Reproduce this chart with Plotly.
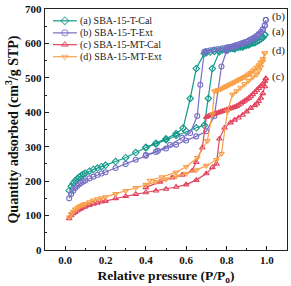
import plotly.graph_objects as go

# ---------------- data ----------------
names = ["(a) SBA-15-T-Cal", "(b) SBA-15-T-Ext", "(c) SBA-15-MT-Cal", "(d) SBA-15-MT-Ext"]
labels = ["(b)", "(a)", "(d)", "(c)"]
label_y = [677, 634, 579, 504]

a_ads_x = [0.02,0.03,0.04,0.05,0.06,0.07,0.08,0.09,0.10,0.12,0.14,0.16,0.18,0.20,0.25,0.30,0.35,0.40,0.45,0.50,0.55,0.60,0.65,0.69,0.71,0.73,0.765,0.80,0.84,0.88,0.91,0.94,0.96,0.98,0.99]
a_ads_y = [173,185,194,201,207,212,216,220,223,229,234,238,242,246,257,268,283,297,308,320,333,345,355,362,440,527,576,580,584,590,596,603,609,617,625]
a_des_x = [0.99,0.98,0.97,0.96,0.95,0.94,0.93,0.92,0.91,0.90,0.89,0.88,0.87,0.86,0.85,0.84,0.83,0.82,0.81,0.80,0.78,0.76,0.74,0.72,0.70,0.69,0.65,0.62,0.585,0.55,0.50,0.45,0.40]
a_des_y = [625,618,613,609,606,603,601,599,597,595,593,592,590,589,588,587,586,585,584,583,581,579,577,575,573,571,527,440,354,338,323,310,298]

b_ads_x = [0.02,0.03,0.04,0.05,0.06,0.07,0.08,0.09,0.10,0.12,0.14,0.16,0.18,0.20,0.25,0.30,0.35,0.40,0.45,0.50,0.55,0.60,0.65,0.70,0.74,0.775,0.80,0.84,0.88,0.91,0.94,0.96,0.98,0.99,0.995]
b_ads_y = [150,163,172,180,186,191,195,199,202,208,213,218,222,226,238,250,262,274,285,295,306,318,330,345,389,533,578,588,598,606,616,626,640,652,668]
b_des_x = [0.995,0.99,0.98,0.97,0.96,0.95,0.94,0.93,0.92,0.91,0.90,0.89,0.88,0.87,0.86,0.85,0.84,0.83,0.82,0.81,0.80,0.78,0.76,0.74,0.72,0.70,0.69,0.67,0.655,0.62,0.58,0.52,0.46,0.40]
b_des_y = [668,652,641,633,627,622,618,614,611,608,605,603,601,599,597,595,593,591,590,589,588,586,584,582,580,578,576,480,389,340,326,305,288,276]

c_ads_x = [0.02,0.03,0.04,0.05,0.06,0.07,0.08,0.09,0.10,0.12,0.14,0.16,0.18,0.20,0.25,0.30,0.35,0.40,0.45,0.50,0.55,0.60,0.65,0.70,0.73,0.75,0.765,0.79,0.82,0.84,0.86,0.88,0.90,0.92,0.94,0.95,0.96,0.97,0.98,0.99,0.995]
c_ads_y = [92,100,106,110,114,118,121,124,126,130,134,137,140,142,150,156,162,167,172,177,183,190,203,222,240,250,323,355,370,378,384,392,402,412,420,425,432,442,455,475,498]
c_des_x = [0.995,0.99,0.98,0.97,0.96,0.95,0.94,0.93,0.92,0.91,0.90,0.89,0.88,0.87,0.86,0.85,0.84,0.83,0.82,0.81,0.80,0.79,0.78,0.77,0.76,0.75,0.74,0.73,0.72,0.71,0.70,0.68,0.65,0.63,0.58,0.53,0.47,0.40]
c_des_y = [498,490,482,476,470,464,458,452,446,441,437,433,429,425,421,418,415,413,411,409,407,405,403,401,399,397,395,393,391,389,386,297,255,230,218,210,198,182]

d_ads_x = [0.02,0.03,0.04,0.05,0.06,0.07,0.08,0.09,0.10,0.12,0.14,0.16,0.18,0.20,0.25,0.30,0.35,0.40,0.45,0.50,0.55,0.60,0.65,0.70,0.75,0.775,0.805,0.83,0.85,0.87,0.89,0.91,0.93,0.95,0.96,0.97,0.98,0.99]
d_ads_y = [95,105,112,118,122,126,129,132,134,139,144,148,151,154,163,172,181,190,198,206,214,222,232,245,262,280,403,452,462,472,482,492,502,510,520,532,548,572]
d_des_x = [0.99,0.98,0.97,0.96,0.95,0.94,0.93,0.92,0.91,0.90,0.89,0.88,0.87,0.86,0.85,0.84,0.83,0.82,0.81,0.80,0.79,0.78,0.77,0.76,0.75,0.74,0.73,0.705,0.655,0.60,0.55,0.48,0.42]
d_des_y = [572,555,545,537,531,525,520,515,511,507,503,500,497,494,491,488,485,482,479,476,473,470,467,465,463,461,395,317,268,242,226,212,202]

colors = ["#14998a", "#7770c6", "#e04660", "#f7a04a"]
symbols = ["diamond-open", "circle-open", "triangle-up-open", "triangle-down-open"]

series = [
    (a_ads_x + a_des_x, a_ads_y + a_des_y),
    (b_ads_x + b_des_x, b_ads_y + b_des_y),
    (c_ads_x + c_des_x, c_ads_y + c_des_y),
    (d_ads_x + d_des_x, d_ads_y + d_des_y),
]

serif = "Liberation Serif, Times New Roman, serif"

fig = go.Figure()
for i, (xs, ys) in enumerate(series):
    fig.add_trace(go.Scatter(
        x=xs, y=ys, mode="lines+markers", name=names[i], showlegend=False,
        line=dict(color=colors[i], width=1.2),
        marker=dict(symbol=symbols[i], size=5, color=colors[i], line=dict(width=1.1, color=colors[i])),
    ))

# compact legend drawn on an overlay axis spanning the plot area (0..1)
leg_rows = [0.951, 0.901, 0.852, 0.802]
for i in range(4):
    fig.add_trace(go.Scatter(
        x=[0.033, 0.082, 0.132], y=[leg_rows[i]] * 3, xaxis="x2", yaxis="y2",
        mode="lines+markers", showlegend=False, hoverinfo="skip",
        line=dict(color=colors[i], width=1.2),
        marker=dict(symbol=symbols[i], size=[0, 6, 0], color=colors[i], line=dict(width=1.1, color=colors[i])),
    ))
    fig.add_annotation(x=0.137, y=leg_rows[i], xref="x2", yref="y2", text=names[i], showarrow=False,
                       xanchor="left", yanchor="middle", font=dict(family=serif, size=10, color="#222"))

for t, yv in zip(labels, label_y):
    fig.add_annotation(x=1.06, y=yv, text=t, showarrow=False,
                       font=dict(family=serif, size=11, color="#222"), xanchor="center", yanchor="middle")

fig.update_layout(
    width=291, height=286,
    margin=dict(l=45, r=3, t=7, b=36),
    paper_bgcolor="white", plot_bgcolor="white",
    showlegend=False,
    font=dict(family=serif, color="#111"),
    xaxis2=dict(overlaying="x", range=[0, 1], visible=False, fixedrange=True),
    yaxis2=dict(overlaying="y", range=[0, 1], visible=False, fixedrange=True),
)
fig.update_layout(
    xaxis=dict(
        range=[-0.1, 1.1], tickvals=[0.0, 0.2, 0.4, 0.6, 0.8, 1.0],
        ticktext=["0.0", "0.2", "0.4", "0.6", "0.8", "1.0"],
        ticks="inside", ticklen=4, tickwidth=1.2, tickcolor="#222",
        minor=dict(ticks="inside", ticklen=2, dtick=0.1, tick0=0.1, tickcolor="#222"),
        showline=True, linecolor="#222", linewidth=1.4, mirror=True, showgrid=False, zeroline=False,
        tickfont=dict(family=serif, size=11, color="#111", weight="bold"),
        title=dict(text="<b>Relative pressure (P/P<sub>o</sub>)</b>", font=dict(family=serif, size=13.5, color="#111"), standoff=5),
    ),
    yaxis=dict(
        range=[0, 700], tickvals=[0, 100, 200, 300, 400, 500, 600, 700],
        ticks="inside", ticklen=4, tickwidth=1.2, tickcolor="#222",
        minor=dict(ticks="inside", ticklen=2, dtick=50, tickcolor="#222"),
        showline=True, linecolor="#222", linewidth=1.4, mirror=True, showgrid=False, zeroline=False,
        tickfont=dict(family=serif, size=11, color="#111", weight="bold"),
        title=dict(text="<b>Quantity adsorbed (cm<sup>3</sup>/g STP)</b>", font=dict(family=serif, size=14, color="#111"), standoff=3),
    ),
)

fig.write_html("out.html")
